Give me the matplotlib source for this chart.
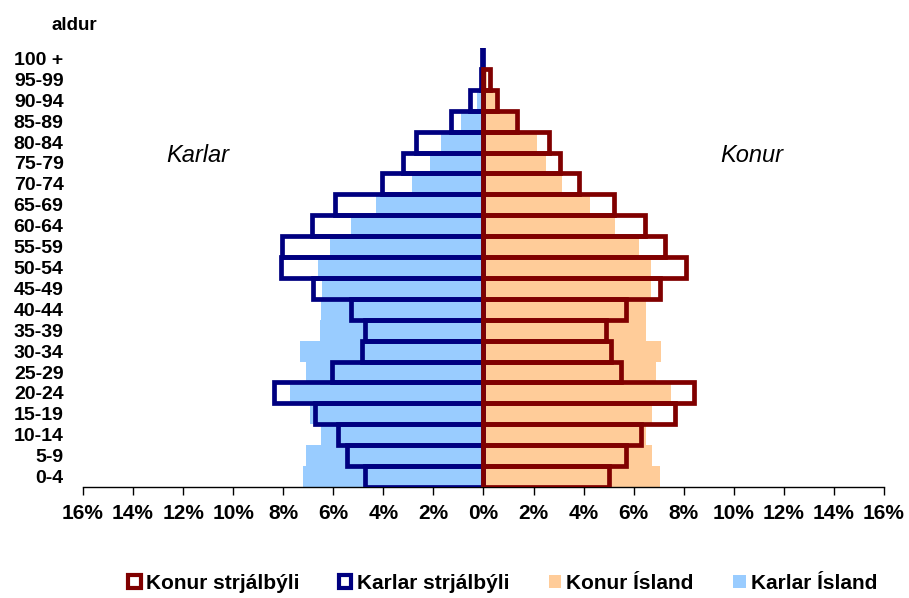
import numpy as np
import matplotlib
matplotlib.use("Agg")
import matplotlib.pyplot as plt
from matplotlib.patches import Patch

plt.rcParams['font.family'] = ['Liberation Sans', 'DejaVu Sans']

# age groups, bottom to top
age = ['0-4', '5-9', '10-14', '15-19', '20-24', '25-29', '30-34', '35-39',
       '40-44', '45-49', '50-54', '55-59', '60-64', '65-69', '70-74',
       '75-79', '80-84', '85-89', '90-94', '95-99', '100 +']

# share of population in %
karlar_strjalbyli = [4.75, 5.45, 5.8, 6.75, 8.35, 6.05, 4.85, 4.75, 5.3, 6.8,
                     8.1, 8.05, 6.85, 5.95, 4.05, 3.2, 2.7, 1.3, 0.55, 0.1, 0.05]
karlar_island = [7.2, 7.1, 6.5, 6.95, 7.75, 7.1, 7.35, 6.55, 6.5, 6.45,
                 6.6, 6.15, 5.3, 4.3, 2.85, 2.15, 1.7, 0.9, 0.25, 0.05, 0.01]
konur_strjalbyli = [5.0, 5.7, 6.3, 7.65, 8.4, 5.5, 5.1, 4.9, 5.7, 7.05,
                    8.1, 7.25, 6.45, 5.2, 3.8, 3.05, 2.6, 1.35, 0.55, 0.25, 0.0]
konur_island = [7.05, 6.75, 6.5, 6.75, 7.5, 6.9, 7.1, 6.5, 6.5, 6.7,
                6.7, 6.2, 5.25, 4.25, 3.15, 2.5, 2.15, 1.25, 0.5, 0.15, 0.02]

navy = '#000080'
maroon = '#800000'
light_blue = '#99CCFF'
peach = '#FFCC99'

y = np.arange(len(age))
ks = np.array(karlar_strjalbyli)
ki = np.array(karlar_island)
kns = np.array(konur_strjalbyli)
kni = np.array(konur_island)

fig = plt.figure(figsize=(9.09, 5.98), dpi=100)
ax = fig.add_axes([0.0913, 0.1856, 0.8812, 0.7341])

# Iceland as filled bars
ax.barh(y, -ki, height=1.0, color=light_blue, linewidth=0, zorder=1)
ax.barh(y, kni, height=1.0, color=peach, linewidth=0, zorder=1)

# little tick marks on the centre axis
ax.hlines(np.arange(-0.5, len(age), 1), -0.15, 0, color='black', lw=0.8, zorder=2)

# rural areas as outlined bars
ax.barh(y, -ks, height=1.0, fill=False, edgecolor=navy,
        linewidth=np.where(ks > 0, 3.4, 0), zorder=3)
ax.barh(y, kns, height=1.0, fill=False, edgecolor=maroon,
        linewidth=np.where(kns > 0, 3.4, 0), zorder=4)

ax.set_xlim(-16, 16)
ax.set_ylim(-0.5, len(age) - 0.5)

xt = np.arange(-16, 17, 2)
ax.set_xticks(xt)
ax.set_xticklabels([f'{abs(v)}%' for v in xt], fontsize=15, fontweight='bold')
ax.tick_params(axis='x', direction='out', length=6, width=1, pad=6)

ax.set_yticks(y)
ax.set_yticklabels(age, fontsize=14, fontweight='bold')
ax.tick_params(axis='y', length=0, pad=14)

for s in ['top', 'right', 'left']:
    ax.spines[s].set_visible(False)
ax.spines['bottom'].set_linewidth(1)

ax.text(-11.4, 15.35, 'Karlar', fontsize=17, style='italic', ha='center', va='center')
ax.text(10.7, 15.35, 'Konur', fontsize=17, style='italic', ha='center', va='center')

fig.text(0.082, 0.957, 'aldur', fontsize=13.5, fontweight='bold', ha='center', va='center')

handles = [Patch(facecolor='white', edgecolor=maroon, linewidth=3),
           Patch(facecolor='white', edgecolor=navy, linewidth=3),
           Patch(facecolor=peach, edgecolor='none'),
           Patch(facecolor=light_blue, edgecolor='none')]
labels = ['Konur strjálbýli', 'Karlar strjálbýli', 'Konur Ísland', 'Karlar Ísland']
fig.legend(handles, labels, loc='center', bbox_to_anchor=(0.553, 0.024), ncol=4,
           frameon=False, prop={'size': 15, 'weight': 'bold'},
           handlelength=0.6, handleheight=0.6, handletextpad=0.25,
           columnspacing=1.9, borderaxespad=0)

fig.savefig('out.png', dpi=100)
